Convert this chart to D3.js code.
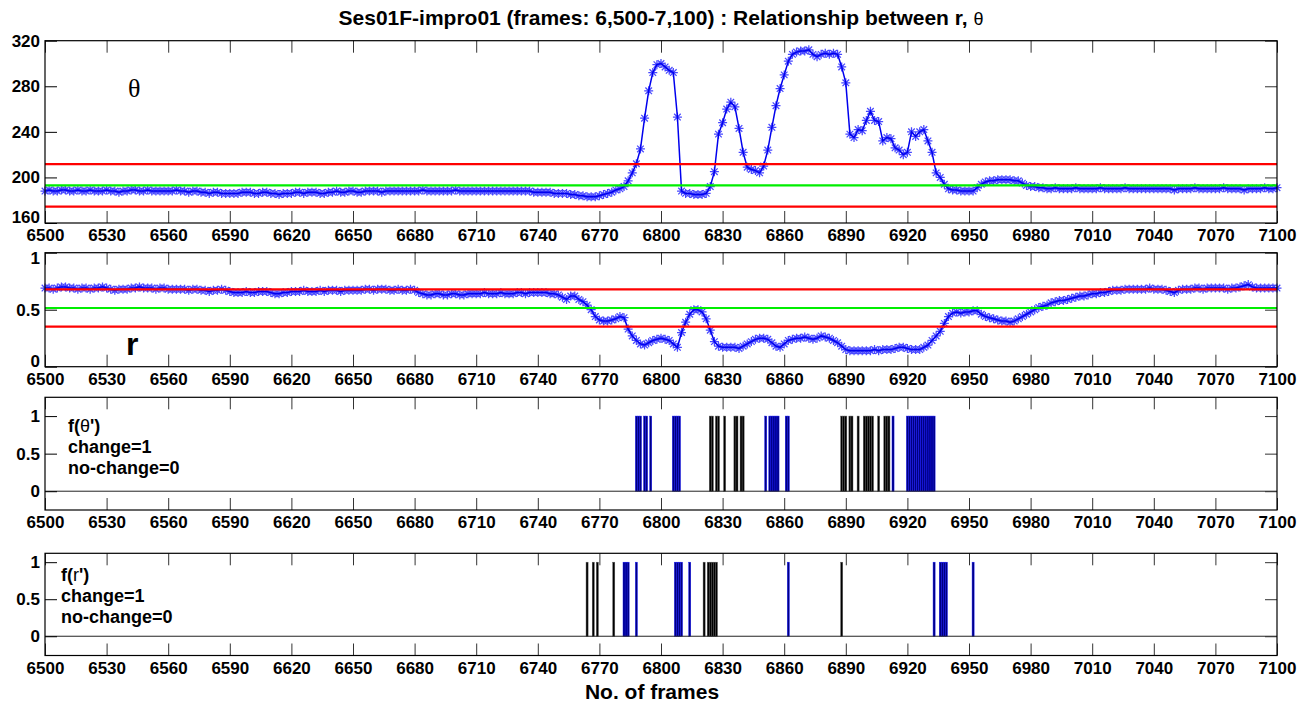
<!DOCTYPE html>
<html lang="en">
<head>
<meta charset="UTF-8" />
<title>Ses01F-impro01 : Relationship between r, θ</title>
<script src="https://d3js.org/d3.v7.min.js"></script>
<style>
  body { margin: 0; background: #fff; }
  svg text { font-family: Arial, "Liberation Sans", sans-serif; font-weight: bold; fill: #000; }
</style>
</head>
<body>
<div id="chart"></div>
<script>
// frames 6500..7100, one value every 2 frames
const frameStart = 6500;
const frameEnd = 7100;
const frameStep = 2;
const xTicks = [6500, 6530, 6560, 6590, 6620, 6650, 6680, 6710, 6740, 6770, 6800, 6830, 6860, 6890, 6920, 6950, 6980, 7010, 7040, 7070, 7100];

const thetaValues = [
  188,189,188,188,189,189,188,188,189,188,188,189,188,188,188,
  189,188,188,187,188,188,189,189,188,188,189,188,188,188,188,
  188,188,189,188,188,187,188,188,187,187,186,187,187,186,186,
  186,186,186,187,187,187,186,186,187,187,186,186,185,186,186,
  186,187,187,186,187,187,187,186,186,187,187,188,187,187,188,
  188,187,187,188,188,188,188,187,188,188,188,188,188,188,188,
  188,188,189,188,188,188,188,188,188,188,189,188,188,188,188,
  188,188,188,188,188,188,188,188,188,188,188,188,188,188,187,
  187,187,187,187,186,186,186,186,185,185,184,184,183,183,183,
  184,185,186,187,189,190,192,197,204,212,225,252,276,292,299,
  300,297,294,292,253,188,186,186,185,185,185,186,192,205,238,
  248,260,266,262,243,222,209,207,206,204,210,224,244,263,278,
  290,302,308,310,311,311,312,308,306,308,309,308,309,308,297,
  283,238,235,242,241,250,258,250,249,232,235,234,226,224,220,
  222,240,236,240,242,232,222,204,200,194,190,189,189,188,188,
  188,188,191,194,196,197,197,198,198,198,198,197,197,195,193,
  192,192,191,191,190,190,191,190,190,190,190,191,190,190,190,
  190,190,191,190,190,190,190,190,191,190,190,190,190,190,190,
  190,190,190,190,190,189,190,190,190,190,191,190,190,190,190,
  190,190,191,190,190,190,190,189,190,190,190,190,191,190,190,
  191
];

const rValues = [
  .69,.69,.68,.69,.70,.70,.69,.69,.68,.69,.69,.68,.69,.69,.70,
  .69,.68,.67,.68,.68,.68,.69,.69,.70,.69,.69,.69,.68,.69,.69,
  .68,.68,.68,.68,.68,.67,.68,.68,.67,.67,.66,.67,.67,.68,.67,
  .66,.65,.65,.65,.66,.65,.65,.66,.66,.66,.65,.64,.64,.65,.65,
  .66,.66,.66,.67,.66,.66,.66,.67,.66,.67,.67,.67,.66,.67,.67,
  .67,.67,.67,.68,.68,.67,.68,.68,.68,.67,.67,.68,.67,.67,.68,
  .67,.65,.64,.63,.63,.64,.64,.63,.63,.64,.64,.63,.63,.64,.64,
  .64,.64,.65,.64,.64,.64,.65,.64,.64,.64,.65,.65,.64,.65,.65,
  .65,.65,.65,.64,.64,.63,.61,.59,.62,.62,.59,.57,.54,.50,.44,
  .41,.40,.40,.41,.42,.44,.43,.33,.27,.23,.20,.19,.21,.23,.24,
  .25,.24,.23,.20,.17,.30,.39,.46,.50,.50,.48,.42,.32,.22,.18,
  .17,.17,.17,.17,.16,.18,.20,.22,.24,.25,.25,.24,.21,.18,.17,
  .20,.23,.24,.25,.25,.26,.25,.24,.25,.27,.26,.25,.23,.21,.18,
  .15,.14,.14,.14,.14,.14,.14,.15,.14,.15,.15,.15,.16,.17,.17,
  .16,.15,.15,.15,.17,.19,.23,.27,.31,.38,.44,.47,.48,.47,.48,
  .48,.49,.49,.46,.44,.43,.42,.41,.40,.40,.39,.40,.42,.44,.46,
  .48,.50,.52,.53,.54,.56,.57,.58,.58,.59,.60,.61,.62,.62,.63,
  .64,.64,.65,.65,.66,.67,.67,.67,.68,.68,.68,.68,.68,.68,.69,
  .68,.68,.68,.67,.66,.65,.67,.68,.68,.68,.69,.69,.68,.69,.69,
  .69,.69,.69,.68,.69,.69,.70,.71,.72,.70,.69,.69,.69,.69,.69,
  .69
];

// lower limit, mean, upper limit
const thetaLimits = [174.3, 193, 211.7];
const rLimits = [0.352, 0.515, 0.679];

// frames flagged as change (value 1)
const thetaChangeBlue = [6788, 6789, 6790, 6792, 6793, 6795, 6806, 6807, 6808, 6809,
  6851, 6853, 6854, 6855, 6856, 6857, 6861, 6862, 6913,
  6920, 6921, 6922, 6923, 6924, 6925, 6926, 6927, 6928, 6929, 6930, 6931, 6932, 6933];
const thetaChangeBlack = [6824, 6825, 6827, 6828, 6831, 6836, 6837, 6839, 6840,
  6888, 6889, 6890, 6892, 6893, 6896, 6899, 6900, 6901, 6902, 6903, 6906, 6909, 6910, 6911];
const rChangeBlue = [6782, 6783, 6784, 6788, 6807, 6808, 6809, 6810, 6814, 6862,
  6933, 6936, 6937, 6938, 6939, 6952];
const rChangeBlack = [6764, 6767, 6769, 6777, 6821, 6823, 6824, 6825, 6826, 6827, 6888];

const width = 1304;
const height = 704;
const left = 45;
const right = 1277;

const svg = d3
  .select('#chart')
  .append('svg')
  .attr('width', width)
  .attr('height', height);

const x = d3.scaleLinear().domain([frameStart, frameEnd]).range([left, right]);

const panels = [
  { top: 40.7, bottom: 223, domain: [160, 320], ticks: [160, 200, 240, 280, 320] },
  { top: 252.7, bottom: 366.7, domain: [0, 1], ticks: [0, 0.5, 1] },
  { top: 397.3, bottom: 510, domain: [-0.25, 1.25], ticks: [0, 0.5, 1] },
  { top: 553.3, bottom: 655.5, domain: [-0.26, 1.12], ticks: [0, 0.5, 1] },
];

function styleAxis(g, showText) {
  g.select('.domain').remove();
  g.selectAll('.tick line').attr('stroke', '#333');
  g.selectAll('.tick text')
    .style('font-size', '17px')
    .style('display', showText ? null : 'none');
  g.attr('font-family', null).attr('font-size', null);
}

function drawFrame(p, y, first) {
  const g = svg.append('g');
  g.append('g')
    .attr('transform', `translate(0,${p.bottom})`)
    .call(d3.axisBottom(x).tickValues(xTicks).tickSizeInner(-12).tickSizeOuter(0).tickPadding(6).tickFormat(d3.format('d')))
    .call((a) => styleAxis(a, true));
  g.append('g')
    .attr('transform', `translate(0,${p.top})`)
    .call(d3.axisTop(x).tickValues(xTicks).tickSizeInner(-12).tickSizeOuter(0))
    .call((a) => styleAxis(a, false));
  const yAxis = g.append('g')
    .attr('transform', `translate(${left},0)`)
    .call(d3.axisLeft(y).tickValues(p.ticks).tickSizeInner(-12).tickSizeOuter(0).tickPadding(5).tickFormat(d3.format('')))
    .call((a) => styleAxis(a, true));
  yAxis.selectAll('.tick line').attr('stroke', '#000');
  // labels sitting on an edge are nudged inward so they clear the x labels
  yAxis.selectAll('.tick text')
    .filter((d) => Math.abs(y(d) - p.bottom) < 1)
    .attr('y', -6);
  if (!first) {
    yAxis.selectAll('.tick text')
      .filter((d) => Math.abs(y(d) - p.top) < 1)
      .attr('y', 5);
  }
  g.append('g')
    .attr('transform', `translate(${right},0)`)
    .call(d3.axisRight(y).tickValues(p.ticks).tickSizeInner(-12).tickSizeOuter(0))
    .call((a) => styleAxis(a, false));
  g.append('rect')
    .attr('x', left)
    .attr('y', p.top)
    .attr('width', right - left)
    .attr('height', p.bottom - p.top)
    .attr('fill', 'none')
    .attr('stroke', '#000')
    .attr('stroke-width', 1.2);
}

function starPath(pts) {
  return pts
    .map(([px, py]) =>
      `M${px - 4.5},${py}H${px + 4.5}M${px},${py - 4.5}V${py + 4.5}` +
      `M${px - 3.3},${py - 3.3}L${px + 3.3},${py + 3.3}M${px - 3.3},${py + 3.3}L${px + 3.3},${py - 3.3}`
    )
    .join('');
}

function drawSeries(p, values, limits, first) {
  const y = d3.scaleLinear().domain(p.domain).range([p.bottom, p.top]);
  const pts = values.map((v, i) => [x(frameStart + i * frameStep), y(v)]);

  svg.append('path')
    .attr('d', starPath(pts))
    .attr('fill', 'none')
    .attr('stroke', '#1a1aff')
    .attr('stroke-opacity', 0.8)
    .attr('stroke-width', 1.25);

  svg.append('path')
    .attr('d', d3.line()(pts))
    .attr('fill', 'none')
    .attr('stroke', '#0000ee')
    .attr('stroke-width', 1.5);

  const limitColors = ['#ff0000', '#00ee00', '#ff0000'];
  svg.append('g')
    .selectAll('line')
    .data(limits)
    .join('line')
    .attr('x1', left)
    .attr('x2', right)
    .attr('y1', (d) => y(d))
    .attr('y2', (d) => y(d))
    .attr('stroke', (d, i) => limitColors[i])
    .attr('stroke-width', 2.2);

  drawFrame(p, y, first);
  return y;
}

function drawChanges(p, blue, black, labelX, labelY, symbol) {
  const y = d3.scaleLinear().domain(p.domain).range([p.bottom, p.top]);
  const bars = [
    ...blue.map((f) => ({ f, c: 'blue' })),
    ...black.map((f) => ({ f, c: 'black' })),
  ];
  svg.append('g')
    .selectAll('rect')
    .data(bars)
    .join('rect')
    .attr('x', (d) => x(d.f - 0.5))
    .attr('width', (d) => x(d.f + 0.5) - x(d.f - 0.5))
    .attr('y', y(1))
    .attr('height', y(0) - y(1))
    .attr('fill', (d) => (d.c === 'blue' ? '#000080' : '#000'))
    .attr('stroke', (d) => (d.c === 'blue' ? '#1010ff' : '#555'))
    .attr('stroke-width', 0.45);

  svg.append('line')
    .attr('x1', left)
    .attr('x2', right)
    .attr('y1', y(0))
    .attr('y2', y(0))
    .attr('stroke', '#222')
    .attr('stroke-width', 1);

  drawFrame(p, y, false);

  const t = svg.append('g').style('font-size', '18px');
  const head = t.append('text').attr('x', labelX).attr('y', labelY).text('f(');
  head.append('tspan').style('font-weight', 'normal').text(symbol);
  head.append('tspan').text("')");
  t.append('text').attr('x', labelX).attr('y', labelY + 21).text('change=1');
  t.append('text').attr('x', labelX).attr('y', labelY + 42).text('no-change=0');
}

drawSeries(panels[0], thetaValues, thetaLimits, true);
drawSeries(panels[1], rValues, rLimits, false);
drawChanges(panels[2], thetaChangeBlue, thetaChangeBlack, 68, 432, 'θ');
drawChanges(panels[3], rChangeBlue, rChangeBlack, 61, 581, 'r');

// panel symbols
svg.append('text')
  .attr('x', 128)
  .attr('y', 97)
  .style('font-family', '"Liberation Serif", "Times New Roman", serif')
  .style('font-weight', 'normal')
  .style('font-size', '26px')
  .text('θ');
svg.append('text')
  .attr('x', 126)
  .attr('y', 355)
  .style('font-size', '32px')
  .text('r');

// title and x label
const title = svg.append('text')
  .attr('x', (left + right) / 2)
  .attr('y', 25)
  .attr('text-anchor', 'middle')
  .style('font-size', '21px')
  .text('Ses01F-impro01 (frames: 6,500-7,100) : Relationship between r, ');
title.append('tspan')
  .style('font-size', '18px')
  .style('font-weight', 'normal')
  .text('θ');

svg.append('text')
  .attr('x', 652)
  .attr('y', 699)
  .attr('text-anchor', 'middle')
  .style('font-size', '21px')
  .text('No. of frames');
</script>
</body>
</html>
